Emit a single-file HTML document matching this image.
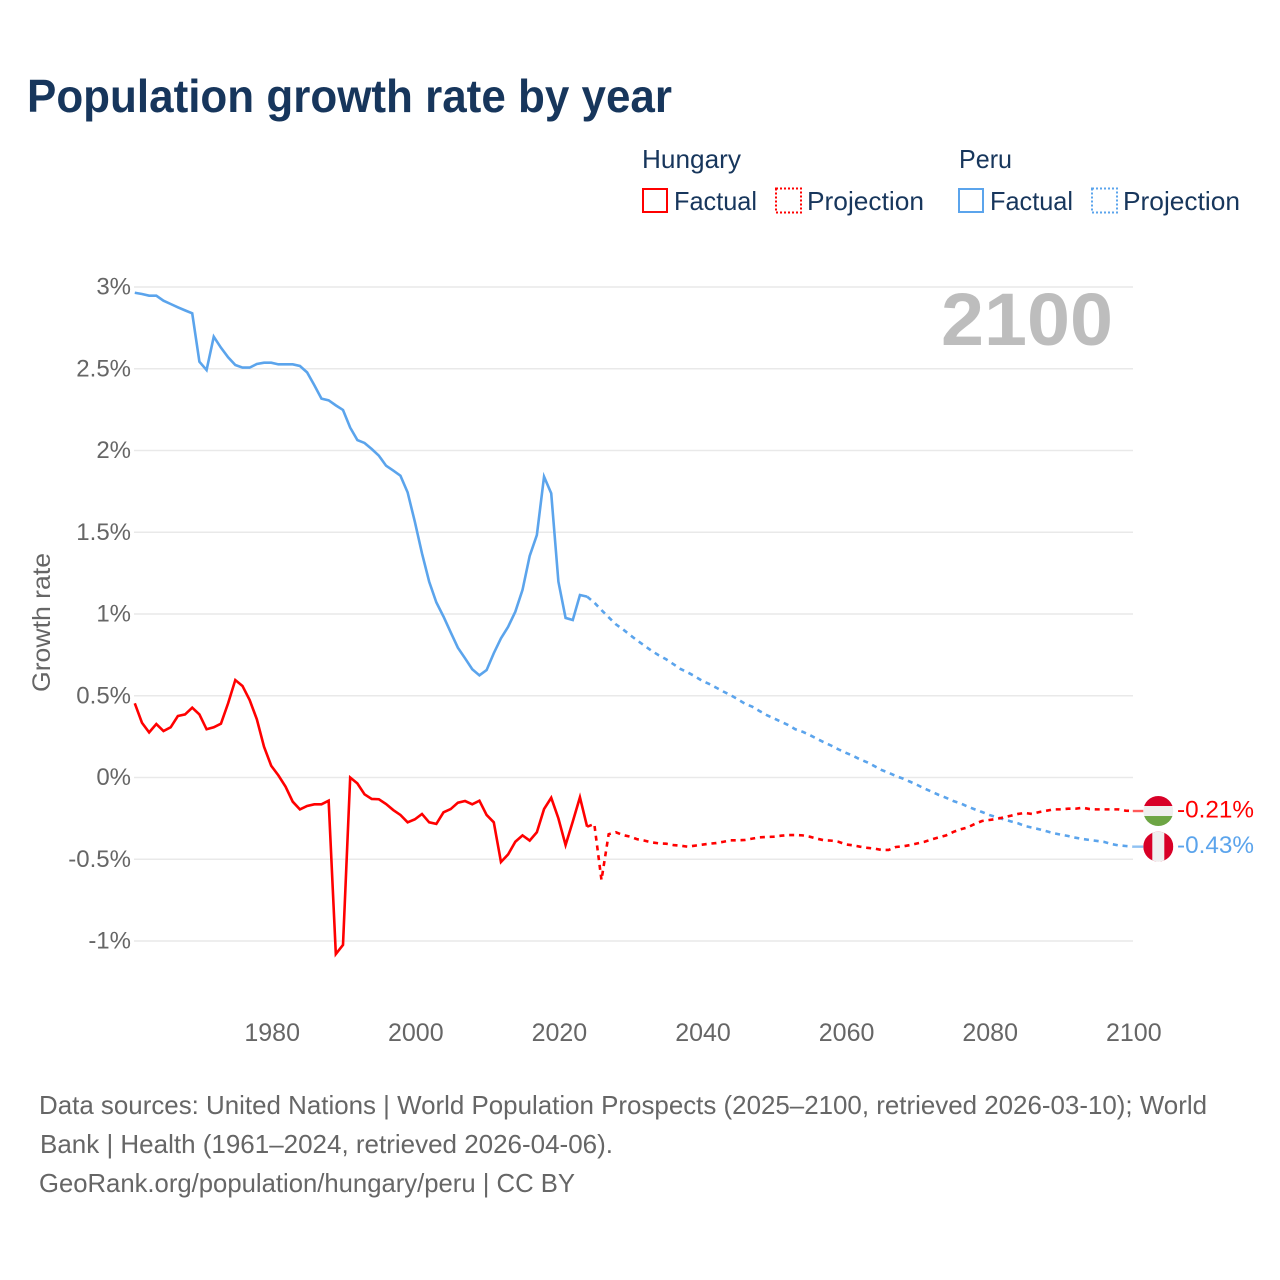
<!DOCTYPE html>
<html lang="en">
<head>
<meta charset="utf-8">
<title>Population growth rate by year</title>
<style>
  html, body { margin: 0; padding: 0; background: #fff; }
  svg { display: block; font-family: "Liberation Sans", sans-serif; }
</style>
</head>
<body>
<svg id="chart" width="1280" height="1280" viewBox="0 0 1280 1280" xmlns="http://www.w3.org/2000/svg">
  <rect x="0" y="0" width="1280" height="1280" fill="#ffffff"/>
  <text x="27" y="112" font-size="46" font-weight="700" fill="#17365c" textLength="645" lengthAdjust="spacingAndGlyphs">Population growth rate by year</text>

  <g font-size="26" fill="#17365c">
    <text x="642" y="168" textLength="99" lengthAdjust="spacingAndGlyphs">Hungary</text>
    <rect x="643" y="189" width="24" height="23" fill="none" stroke="#ff0000" stroke-width="2"/>
    <text x="674" y="210" textLength="83" lengthAdjust="spacingAndGlyphs">Factual</text>
    <rect x="776" y="188.5" width="25" height="24" fill="none" stroke="#ff0000" stroke-width="2" stroke-dasharray="2 2"/>
    <text x="807" y="210" textLength="117" lengthAdjust="spacingAndGlyphs">Projection</text>
    <text x="959" y="168" textLength="53" lengthAdjust="spacingAndGlyphs">Peru</text>
    <rect x="959" y="189" width="24" height="23" fill="none" stroke="#5ba4ec" stroke-width="2"/>
    <text x="990" y="210" textLength="83" lengthAdjust="spacingAndGlyphs">Factual</text>
    <rect x="1092" y="188.5" width="25" height="24" fill="none" stroke="#5ba4ec" stroke-width="2" stroke-dasharray="2 2"/>
    <text x="1123" y="210" textLength="117" lengthAdjust="spacingAndGlyphs">Projection</text>
  </g>

  <text transform="translate(50 622.5) rotate(-90)" text-anchor="middle" font-size="25" fill="#666666" textLength="139" lengthAdjust="spacingAndGlyphs">Growth rate</text>

  <g id="grid"></g>
  <g id="y-ticks"></g>
  <g id="x-ticks"></g>

  <text x="941" y="345" font-size="74" font-weight="700" fill="#bdbdbd" textLength="172" lengthAdjust="spacingAndGlyphs">2100</text>

  <g id="series"></g>
  <g id="end-markers"></g>

  <g font-size="26" fill="#666666">
    <text x="39" y="1114" textLength="1168" lengthAdjust="spacingAndGlyphs">Data sources: United Nations | World Population Prospects (2025–2100, retrieved 2026-03-10); World</text>
    <text x="40" y="1153" textLength="573" lengthAdjust="spacingAndGlyphs">Bank | Health (1961–2024, retrieved 2026-04-06).</text>
    <text x="39" y="1192" textLength="536" lengthAdjust="spacingAndGlyphs">GeoRank.org/population/hungary/peru | CC BY</text>
  </g>
</svg>

<script>
// ----- chart data -----
const factualStartYear = 1961;
const projectionStartYear = 2024;

const hungaryFactual = [
  0.454, 0.335, 0.276, 0.327, 0.284, 0.307, 0.376, 0.386, 0.427, 0.386,
  0.295, 0.307, 0.329, 0.454, 0.596, 0.56, 0.474, 0.356, 0.188, 0.072,
  0.013, -0.056, -0.148, -0.195, -0.174, -0.164, -0.164, -0.142, -1.08, -1.024,
  0.0, -0.036, -0.103, -0.131, -0.133, -0.162, -0.199, -0.229, -0.274, -0.256,
  -0.223, -0.274, -0.284, -0.213, -0.193, -0.154, -0.144, -0.164, -0.142, -0.229,
  -0.274, -0.517, -0.47, -0.393, -0.354, -0.386, -0.335, -0.193, -0.124, -0.25,
  -0.413, -0.27, -0.121, -0.301
];

const hungaryProjection = [
  -0.301, -0.284, -0.627, -0.347, -0.335, -0.352, -0.362, -0.378, -0.386, -0.397,
  -0.403, -0.405, -0.413, -0.417, -0.423, -0.417, -0.411, -0.405, -0.401, -0.393,
  -0.384, -0.384, -0.382, -0.374, -0.366, -0.364, -0.362, -0.356, -0.352, -0.352,
  -0.354, -0.362, -0.374, -0.384, -0.386, -0.393, -0.409, -0.415, -0.423, -0.43,
  -0.435, -0.443, -0.443, -0.425, -0.421, -0.413, -0.403, -0.393, -0.378, -0.366,
  -0.354, -0.333, -0.317, -0.305, -0.284, -0.266, -0.26, -0.254, -0.244, -0.234,
  -0.223, -0.217, -0.223, -0.211, -0.203, -0.195, -0.195, -0.191, -0.191, -0.185,
  -0.193, -0.195, -0.195, -0.195, -0.195, -0.203, -0.205
];

const peruFactual = [
  2.965, 2.957, 2.947, 2.947, 2.916, 2.896, 2.876, 2.857, 2.839, 2.543,
  2.492, 2.696, 2.629, 2.57, 2.523, 2.507, 2.507, 2.529, 2.537, 2.537,
  2.527, 2.527, 2.527, 2.517, 2.478, 2.4, 2.317, 2.307, 2.276, 2.248,
  2.14, 2.064, 2.046, 2.009, 1.968, 1.907, 1.877, 1.846, 1.744, 1.565,
  1.371, 1.198, 1.071, 0.984, 0.888, 0.794, 0.729, 0.662, 0.625, 0.657,
  0.76, 0.851, 0.922, 1.014, 1.147, 1.355, 1.483, 1.84, 1.738, 1.198,
  0.976, 0.963, 1.116, 1.106
];

const peruProjection = [
  1.106, 1.07, 1.024, 0.98, 0.937, 0.906, 0.871, 0.837, 0.806, 0.774,
  0.747, 0.723, 0.694, 0.664, 0.643, 0.619, 0.592, 0.572, 0.549, 0.525,
  0.503, 0.478, 0.451, 0.433, 0.407, 0.382, 0.362, 0.341, 0.321, 0.295,
  0.28, 0.26, 0.237, 0.215, 0.195, 0.172, 0.152, 0.133, 0.111, 0.093,
  0.07, 0.046, 0.029, 0.009, -0.007, -0.026, -0.046, -0.068, -0.087, -0.107,
  -0.124, -0.144, -0.158, -0.178, -0.195, -0.211, -0.229, -0.242, -0.256, -0.268,
  -0.28, -0.297, -0.307, -0.317, -0.329, -0.341, -0.35, -0.358, -0.368, -0.376,
  -0.382, -0.388, -0.394, -0.407, -0.415, -0.419, -0.423
];

const yTickValues = [3, 2.5, 2, 1.5, 1, 0.5, 0, -0.5, -1];
const yTickLabels = ["3%", "2.5%", "2%", "1.5%", "1%", "0.5%", "0%", "-0.5%", "-1%"];
const xTickYears = [1980, 2000, 2020, 2040, 2060, 2080, 2100];
const xTickLabels = ["1980", "2000", "2020", "2040", "2060", "2080", "2100"];
const hungaryEndLabel = "-0.21%";
const peruEndLabel = "-0.43%";

// ----- axis functions -----
const SVG_NS = "http://www.w3.org/2000/svg";
function xScale(year) { return 271.2 + (year - 1980) * 7.18; }
function yScale(value) { return 777.5 - value * 163.5; }
function make(tag, attrs, parent) {
  const el = document.createElementNS(SVG_NS, tag);
  for (const k in attrs) el.setAttribute(k, attrs[k]);
  parent.appendChild(el);
  return el;
}
function pathFrom(values, startYear) {
  return values.map(function (v, i) {
    return (i ? "L" : "M") + xScale(startYear + i).toFixed(2) + " " + yScale(v).toFixed(2);
  }).join(" ");
}

// ----- gridlines & ticks -----
const gridGroup = document.getElementById("grid");
const yTickGroup = document.getElementById("y-ticks");
yTickValues.forEach(function (v, i) {
  const line = make("line", { x1: 134, x2: 1133, y1: yScale(v), y2: yScale(v), stroke: "#e9e9e9", "stroke-width": 1.5 }, gridGroup);
  
  
  const label = make("text", { x: 131, y: yScale(v) + 7.5, "text-anchor": "end", "font-size": 24, fill: "#666666" }, yTickGroup);
  label.textContent = yTickLabels[i];
  
  
});

const xTickGroup = document.getElementById("x-ticks");
xTickYears.forEach(function (year, i) {
  const label = make("text", { x: xScale(year) + 1, y: 1041, "text-anchor": "middle", "font-size": 25, fill: "#666666" }, xTickGroup);
  label.textContent = xTickLabels[i];
  
  
});

// ----- series -----
const RED = "#ff0000";
const BLUE = "#5ba4ec";
const seriesGroup = document.getElementById("series");

const peruProjLine = make("path", { d: pathFrom(peruProjection, projectionStartYear), fill: "none", stroke: BLUE, "stroke-width": 2.6, "stroke-dasharray": "5 4.8" }, seriesGroup);



const peruFactLine = make("path", { d: pathFrom(peruFactual, factualStartYear), fill: "none", stroke: BLUE, "stroke-width": 2.6 }, seriesGroup);



const hunProjLine = make("path", { d: pathFrom(hungaryProjection, projectionStartYear), fill: "none", stroke: RED, "stroke-width": 2.6, "stroke-dasharray": "5 4.8" }, seriesGroup);



const hunFactLine = make("path", { d: pathFrom(hungaryFactual, factualStartYear), fill: "none", stroke: RED, "stroke-width": 2.6 }, seriesGroup);



// ----- end markers (connector, flag, value) -----
const markerGroup = document.getElementById("end-markers");
const flagX = 1158.3;
const flagR = 15;
const hunEndY = yScale(hungaryProjection[hungaryProjection.length - 1]);
const peruEndY = yScale(peruProjection[peruProjection.length - 1]);

const hunConn = make("line", { x1: xScale(2100), x2: flagX - flagR, y1: hunEndY, y2: hunEndY, stroke: "#ff5a5a", "stroke-width": 2.4 }, markerGroup);


const peruConn = make("line", { x1: xScale(2100), x2: flagX - flagR, y1: peruEndY, y2: peruEndY, stroke: "#8fc1f2", "stroke-width": 2.4 }, markerGroup);



const defs = make("defs", {}, markerGroup);
const clipH = make("clipPath", { id: "clip-hungary" }, defs);
make("circle", { cx: flagX, cy: hunEndY, r: flagR }, clipH);
const clipP = make("clipPath", { id: "clip-peru" }, defs);
make("circle", { cx: flagX, cy: peruEndY, r: flagR }, clipP);

const flagH = make("g", { "clip-path": "url(#clip-hungary)" }, markerGroup);


make("rect", { x: flagX - flagR, y: hunEndY - flagR, width: 2 * flagR, height: 10, fill: "#d80027" }, flagH);
make("rect", { x: flagX - flagR, y: hunEndY - 5, width: 2 * flagR, height: 10, fill: "#efefef" }, flagH);
make("rect", { x: flagX - flagR, y: hunEndY + 5, width: 2 * flagR, height: 10, fill: "#6da544" }, flagH);

const flagP = make("g", { "clip-path": "url(#clip-peru)" }, markerGroup);


make("rect", { x: flagX - flagR, y: peruEndY - flagR, width: 2 * flagR, height: 2 * flagR, fill: "#d80027" }, flagP);
make("rect", { x: flagX - 6, y: peruEndY - flagR, width: 12, height: 2 * flagR, fill: "#efefef" }, flagP);

const hunValue = make("text", { x: 1177, y: hunEndY + 6.5, "font-size": 24, fill: RED, textLength: 77, lengthAdjust: "spacingAndGlyphs" }, markerGroup);
hunValue.textContent = hungaryEndLabel;


const peruValue = make("text", { x: 1177, y: peruEndY + 6.5, "font-size": 24, fill: BLUE, textLength: 77, lengthAdjust: "spacingAndGlyphs" }, markerGroup);
peruValue.textContent = peruEndLabel;


</script>
</body>
</html>
